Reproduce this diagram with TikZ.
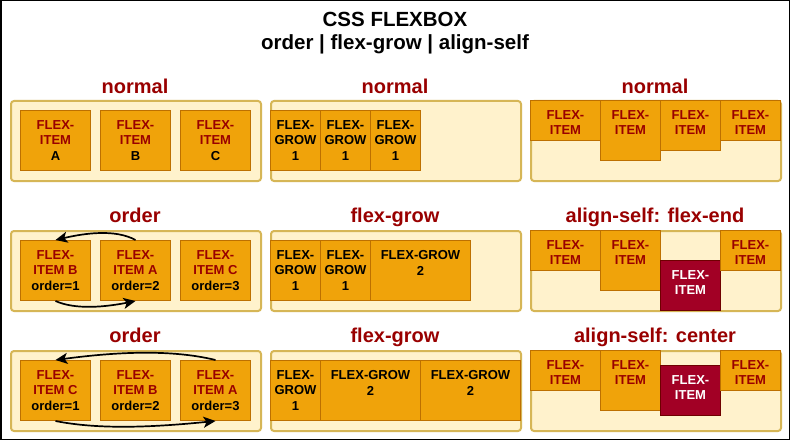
\documentclass[tikz,border=0pt]{standalone}
\usepackage{fontspec}
\setmainfont{Liberation Sans}
\usetikzlibrary{arrows.meta}
\definecolor{dred}{HTML}{990000}
\definecolor{itemfill}{HTML}{F0A30A}
\definecolor{itemline}{HTML}{BD7000}
\definecolor{contfill}{HTML}{FFF2CC}
\definecolor{contline}{HTML}{D6B656}
\definecolor{darkfill}{HTML}{A20025}
\definecolor{darkline}{HTML}{6F0000}
\tikzset{
  cont/.style={draw=contline, fill=contfill, line width=2pt, rounded corners=3pt,
    minimum width=250pt, minimum height=80pt, inner sep=0pt, anchor=north west},
  orangebox/.style={draw=itemline, fill=itemfill, line width=1pt, inner sep=0pt},
  darkbox/.style={draw=darkline, fill=darkfill, line width=1pt, inner sep=0pt},
  itemtext/.style={anchor=north, inner sep=0pt, align=center,
    font=\fontsize{13pt}{15.6pt}\selectfont\bfseries},
  redtxt/.style={text=dred},
  blacktxt/.style={text=black},
  whitetxt/.style={text=white},
  heading/.style={anchor=base, inner sep=0pt, text=dred,
    font=\fontsize{20pt}{24pt}\selectfont\bfseries},
  titletxt/.style={anchor=base, inner sep=0pt, text=black,
    font=\fontsize{20.5pt}{24pt}\selectfont\bfseries},
  arr/.style={draw=black, line width=1.7pt, -{Stealth[length=12pt,width=11pt,inset=3pt]}}
}
% name, x, y, w, h, box style, text style, text
\newcommand\fitem[8]{%
  \node[#6, minimum width=#4pt, minimum height=#5pt, anchor=north west] (#1) at (#2,#3) {};
  \node[itemtext, #7] (#1t) at ([yshift=-10.2pt]#1.north) {#8};
}
\begin{document}
\begin{tikzpicture}[x=1pt, y=-1pt]
\useasboundingbox (0,0) rectangle (791,441);
\fill[white] (0,0) rectangle (791,441);
\draw[black, line width=1.5pt] (0.75,0.75) rectangle (789.25,439.25);

\node[titletxt] (title) at (395,27) {CSS FLEXBOX};
\node[titletxt] (subtitle) at (395,50) {order | flex-grow | align-self};

% headings
\node[heading] (h11) at (135,93) {normal};
\node[heading] (h12) at (395,93) {normal};
\node[heading] (h13) at (655,93) {normal};
\node[heading] (h21) at (135,222) {order};
\node[heading] (h22) at (395,222) {flex-grow};
\node[heading] (h23) at (655,222) {align-self: flex-end};
\node[heading] (h31) at (135,342) {order};
\node[heading] (h32) at (395,342) {flex-grow};
\node[heading] (h33) at (655,342) {align-self: center};

% containers
\node[cont] (c11) at (10,100) {};
\node[cont] (c12) at (270,100) {};
\node[cont] (c13) at (530,100) {};
\node[cont] (c21) at (10,230) {};
\node[cont] (c22) at (270,230) {};
\node[cont] (c23) at (530,230) {};
\node[cont] (c31) at (10,350) {};
\node[cont] (c32) at (270,350) {};
\node[cont] (c33) at (530,350) {};

% row 1
\fitem{r1a}{20}{110}{70}{60}{orangebox}{redtxt}{FLEX-\\ITEM\\\textcolor{black}{A}}
\fitem{r1b}{100}{110}{70}{60}{orangebox}{redtxt}{FLEX-\\ITEM\\\textcolor{black}{B}}
\fitem{r1c}{180}{110}{70}{60}{orangebox}{redtxt}{FLEX-\\ITEM\\\textcolor{black}{C}}
\fitem{g1a}{270}{110}{50}{60}{orangebox}{blacktxt}{FLEX-\\GROW\\1}
\fitem{g1b}{320}{110}{50}{60}{orangebox}{blacktxt}{FLEX-\\GROW\\1}
\fitem{g1c}{370}{110}{50}{60}{orangebox}{blacktxt}{FLEX-\\GROW\\1}
\fitem{s1a}{530}{100}{70}{40}{orangebox}{redtxt}{FLEX-\\ITEM}
\fitem{s1b}{600}{100}{60}{60}{orangebox}{redtxt}{FLEX-\\ITEM}
\fitem{s1c}{660}{100}{60}{50}{orangebox}{redtxt}{FLEX-\\ITEM}
\fitem{s1d}{720}{100}{60}{40}{orangebox}{redtxt}{FLEX-\\ITEM}

% row 2
\fitem{r2a}{20}{240}{70}{60}{orangebox}{redtxt}{FLEX-\\ITEM B\\\textcolor{black}{order=1}}
\fitem{r2b}{100}{240}{70}{60}{orangebox}{redtxt}{FLEX-\\ITEM A\\\textcolor{black}{order=2}}
\fitem{r2c}{180}{240}{70}{60}{orangebox}{redtxt}{FLEX-\\ITEM C\\\textcolor{black}{order=3}}
\fitem{g2a}{270}{240}{50}{60}{orangebox}{blacktxt}{FLEX-\\GROW\\1}
\fitem{g2b}{320}{240}{50}{60}{orangebox}{blacktxt}{FLEX-\\GROW\\1}
\fitem{g2c}{370}{240}{100}{60}{orangebox}{blacktxt}{FLEX-GROW\\2}
\fitem{s2a}{530}{230}{70}{40}{orangebox}{redtxt}{FLEX-\\ITEM}
\fitem{s2b}{600}{230}{60}{60}{orangebox}{redtxt}{FLEX-\\ITEM}
\fitem{s2c}{660}{260}{60}{50}{darkbox}{whitetxt}{FLEX-\\ITEM}
\fitem{s2d}{720}{230}{60}{40}{orangebox}{redtxt}{FLEX-\\ITEM}

% row 3
\fitem{r3a}{20}{360}{70}{60}{orangebox}{redtxt}{FLEX-\\ITEM C\\\textcolor{black}{order=1}}
\fitem{r3b}{100}{360}{70}{60}{orangebox}{redtxt}{FLEX-\\ITEM B\\\textcolor{black}{order=2}}
\fitem{r3c}{180}{360}{70}{60}{orangebox}{redtxt}{FLEX-\\ITEM A\\\textcolor{black}{order=3}}
\fitem{g3a}{270}{360}{50}{60}{orangebox}{blacktxt}{FLEX-\\GROW\\1}
\fitem{g3b}{320}{360}{100}{60}{orangebox}{blacktxt}{FLEX-GROW\\2}
\fitem{g3c}{420}{360}{100}{60}{orangebox}{blacktxt}{FLEX-GROW\\2}
\fitem{s3a}{530}{350}{70}{40}{orangebox}{redtxt}{FLEX-\\ITEM}
\fitem{s3b}{600}{350}{60}{60}{orangebox}{redtxt}{FLEX-\\ITEM}
\fitem{s3c}{660}{365}{60}{50}{darkbox}{whitetxt}{FLEX-\\ITEM}
\fitem{s3d}{720}{350}{60}{40}{orangebox}{redtxt}{FLEX-\\ITEM}

% order arrows
\draw[arr] (r2b.north) .. controls +(-20,-11) and +(30,-7) .. (r2a.north);
\draw[arr] (r2a.south) .. controls +(20,9) and +(-30,6) .. (r2b.south);
\draw[arr] (r3c.north) .. controls +(-45,-11) and +(60,-8) .. (r3a.north);
\draw[arr] (r3a.south) .. controls +(45,9) and +(-60,6) .. (r3c.south);
\end{tikzpicture}
\end{document}
